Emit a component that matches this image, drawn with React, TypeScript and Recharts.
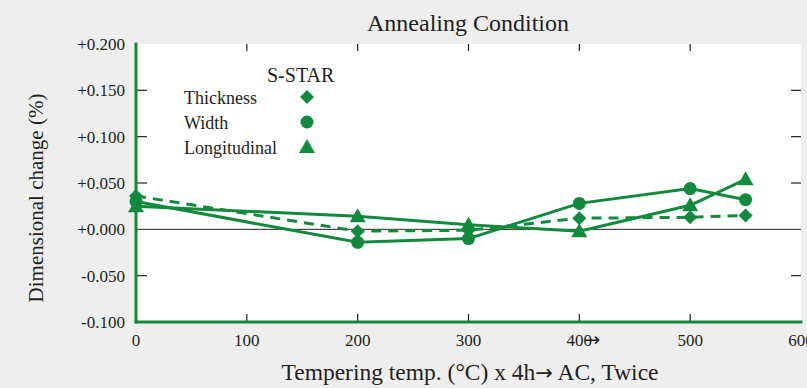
import React from "react";
import {
  ComposedChart,
  Line,
  XAxis,
  YAxis,
  ReferenceLine,
  Legend,
} from "recharts";

// Chart data
const temps = [0, 200, 300, 400, 500, 550];
const thickness = [0.036, -0.002, -0.001, 0.012, 0.013, 0.015];
const widthChange = [0.03, -0.014, -0.01, 0.028, 0.044, 0.032];
const longitudinal = [0.025, 0.014, 0.005, -0.002, 0.026, 0.054];
const xTicks = [0, 100, 200, 300, 400, 500, 600];
const yTicks = [-0.1, -0.05, 0, 0.05, 0.1, 0.15, 0.2];
const seriesNames = ["Thickness", "Width", "Longitudinal"];

const data = temps.map((t, i) => ({
  t,
  thickness: thickness[i],
  width: widthChange[i],
  longitudinal: longitudinal[i],
}));

const GREEN = "#128a3e";
const INK = "#231f20";
const FONT = '"Liberation Serif", "Times New Roman", serif';
const ARROW_FONT = '"DejaVu Sans", sans-serif';

const X_MIN = 0;
const X_MAX = 600;
const Y_MIN = -0.1;
const Y_MAX = 0.2;
// inward tick lengths, in data units (plot is 665 x 278 px)
const xTickLenTop = 0.0076; // ~7px
const xTickLenBottom = 0.0086; // ~8px
const yTickLenLeft = 9.9; // ~11px
const yTickLenRight = 9.0; // ~10px

const innerX = xTicks.filter((v) => v > X_MIN && v < X_MAX);
const innerY = yTicks.filter((v) => v > Y_MIN && v < Y_MAX && v !== 0);

const fmtY = (v: number) => (v < 0 ? "-" : "+") + Math.abs(v).toFixed(3);

// Marker shapes
const Diamond = ({ cx, cy, r = 7 }: any) => (
  <polygon
    points={`${cx},${cy - r} ${cx + r},${cy} ${cx},${cy + r} ${cx - r},${cy}`}
    fill={GREEN}
  />
);
const Dot = ({ cx, cy, r = 6.5 }: any) => <circle cx={cx} cy={cy} r={r} fill={GREEN} />;
const Tri = ({ cx, cy }: any) => (
  <polygon
    points={`${cx},${cy - 8} ${cx + 8},${cy + 6} ${cx - 8},${cy + 6}`}
    fill={GREEN}
  />
);

const shapes: Record<string, any> = {
  thickness: Diamond,
  width: Dot,
  longitudinal: Tri,
};

const BottomTick = ({ x, y, payload }: any) => (
  <g>
    <text x={x} y={Number(y) + 24} textAnchor="middle" fontFamily={FONT} fontSize={17} fill={INK}>
      {payload.value}
    </text>
    {payload.value === 400 && (
      <text x={Number(x) + 5} y={Number(y) + 24} fontFamily={ARROW_FONT} fontSize={19} fill={INK}>
        →
      </text>
    )}
  </g>
);

const LeftTick = ({ x, y, payload }: any) => (
  <text x={Number(x) - 11} y={Number(y) + 6} textAnchor="end" fontFamily={FONT} fontSize={17} fill={INK}>
    {fmtY(payload.value)}
  </text>
);

const LegendBox = ({ payload }: any) => (
  <svg width={180} height={100}>
    <text x={97} y={22} fontFamily={FONT} fontSize={20} fill={INK}>
      S-STAR
    </text>
    {(payload || []).map((p: any, i: number) => {
      const Shape = shapes[p.dataKey];
      const cy = 37 + i * 25;
      return (
        <g key={p.dataKey}>
          <text x={14} y={cy + 7} fontFamily={FONT} fontSize={18} fill={INK}>
            {p.value}
          </text>
          <Shape cx={137} cy={cy} />
        </g>
      );
    })}
  </svg>
);

const frame = { stroke: GREEN, strokeWidth: 3, strokeLinecap: "square" as const };
const tickStyle = { stroke: INK, strokeWidth: 1.2 };

const App: React.FC = () => {
  const keys = ["thickness", "width", "longitudinal"];
  return (
    <div
      style={{
        position: "absolute",
        left: 0,
        top: 0,
        width: 807,
        height: 388,
        background: "#eeeeee",
        overflow: "hidden",
      }}
    >
      {/* white plot background behind the chart svg */}
      <div
        style={{
          position: "absolute",
          left: 136,
          top: 44,
          width: 665,
          height: 278,
          background: "#ffffff",
        }}
      />
      <ComposedChart
        width={807}
        height={388}
        data={data}
        margin={{ top: 44, right: 6, bottom: 0, left: 76 }}
      >
        <XAxis
          xAxisId="bottom"
          dataKey="t"
          type="number"
          domain={[X_MIN, X_MAX]}
          ticks={xTicks}
          height={66}
          tickSize={0}
          tickMargin={0}
          tickLine={false}
          axisLine={frame}
          tick={<BottomTick />}
          interval={0}
        />
        <XAxis
          xAxisId="top"
          orientation="top"
          dataKey="t"
          type="number"
          domain={[X_MIN, X_MAX]}
          ticks={xTicks}
          height={0}
          tickSize={0}
          tickLine={false}
          axisLine={frame}
          tick={false}
        />
        <YAxis
          yAxisId="left"
          domain={[Y_MIN, Y_MAX]}
          ticks={yTicks}
          width={60}
          tickSize={0}
          tickMargin={0}
          tickLine={false}
          axisLine={frame}
          tick={<LeftTick />}
          interval={0}
        />
        <YAxis
          yAxisId="right"
          orientation="right"
          domain={[Y_MIN, Y_MAX]}
          ticks={yTicks}
          width={0}
          tickSize={0}
          tickLine={false}
          axisLine={frame}
          tick={false}
        />
        <ReferenceLine xAxisId="bottom" yAxisId="left" y={0} stroke={INK} strokeWidth={1} />
        {/* inward tick marks on all four sides */}
        {innerX.map((v) => (
          <ReferenceLine
            key={`tt-${v}`}
            xAxisId="bottom"
            yAxisId="left"
            segment={[
              { x: v, y: Y_MAX },
              { x: v, y: Y_MAX - xTickLenTop },
            ]}
            {...tickStyle}
          />
        ))}
        {innerX.map((v) => (
          <ReferenceLine
            key={`tb-${v}`}
            xAxisId="bottom"
            yAxisId="left"
            segment={[
              { x: v, y: Y_MIN },
              { x: v, y: Y_MIN + xTickLenBottom },
            ]}
            {...tickStyle}
          />
        ))}
        {innerY.map((v) => (
          <ReferenceLine
            key={`tl-${v}`}
            xAxisId="bottom"
            yAxisId="left"
            segment={[
              { x: X_MIN, y: v },
              { x: X_MIN + yTickLenLeft, y: v },
            ]}
            {...tickStyle}
          />
        ))}
        {innerY.map((v) => (
          <ReferenceLine
            key={`tr-${v}`}
            xAxisId="bottom"
            yAxisId="left"
            segment={[
              { x: X_MAX, y: v },
              { x: X_MAX - yTickLenRight, y: v },
            ]}
            {...tickStyle}
          />
        ))}
        {keys.map((k, i) => {
          const Shape = shapes[k];
          return (
            <Line
              key={k}
              xAxisId="bottom"
              yAxisId="left"
              type="linear"
              dataKey={k}
              name={seriesNames[i]}
              stroke={GREEN}
              strokeWidth={3}
              strokeDasharray={k === "thickness" ? "10 7" : undefined}
              dot={(p: any) => <Shape key={`${k}-${p.index}`} cx={p.cx} cy={p.cy} />}
              activeDot={false}
              legendType="none"
              isAnimationActive={false}
            />
          );
        })}
        <Legend
          layout="vertical"
          align="center"
          verticalAlign="middle"
          wrapperStyle={{ left: 170, top: 60, width: 180, height: 100 }}
          content={() => (
            <LegendBox
              payload={keys.map((k, i) => ({ dataKey: k, value: seriesNames[i] }))}
            />
          )}
        />
      </ComposedChart>
      <svg
        width={807}
        height={388}
        style={{ position: "absolute", left: 0, top: 0, pointerEvents: "none" }}
      >
        <text x={468} y={31} textAnchor="middle" fontFamily={FONT} fontSize={24} fill={INK}>
          Annealing Condition
        </text>
        <text x={470} y={380} textAnchor="middle" fontFamily={FONT} fontSize={23.5} fill={INK}>
          Tempering temp. (°C) x 4h
          <tspan fontFamily={ARROW_FONT} fontSize={21}>→</tspan> AC, Twice
        </text>
        <text
          x={43}
          y={198}
          textAnchor="middle"
          fontFamily={FONT}
          fontSize={21}
          fill={INK}
          transform="rotate(-90 43 198)"
        >
          Dimensional change (%)
        </text>
      </svg>
    </div>
  );
};

export default App;
